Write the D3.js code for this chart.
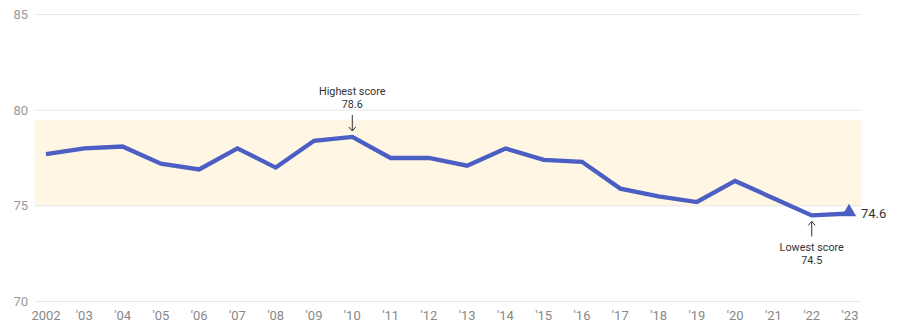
<!DOCTYPE html>
<html><head><meta charset="utf-8">
<script src="https://cdn.jsdelivr.net/npm/d3@7"></script>
<style>
html,body{margin:0;padding:0;background:#fff;}
svg{display:block;font-family:Roboto,"Noto Sans",sans-serif;}
</style></head>
<body>
<svg id="chart" width="904" height="325"></svg>
<script>
const years = [2002,2003,2004,2005,2006,2007,2008,2009,2010,2011,2012,2013,2014,2015,2016,2017,2018,2019,2020,2021,2022,2023];
const yearLabels = ["2002","'03","'04","'05","'06","'07","'08","'09","'10","'11","'12","'13","'14","'15","'16","'17","'18","'19","'20","'21","'22","'23"];
const scores = [77.7,78.0,78.1,77.2,76.9,78.0,77.0,78.4,78.6,77.5,77.5,77.1,78.0,77.4,77.3,75.9,75.5,75.2,76.3,75.4,74.5,74.6];
const yTicks = [70,75,80,85];
const band = [75,79.5];
const annotations = [
  {year:2010, lines:["Highest score","78.6"], pos:"above"},
  {year:2022, lines:["Lowest score","74.5"], pos:"below"}
];

const svg = d3.select("#chart");
const x = d3.scaleLinear().domain([2002,2023]).range([46,850]);
const y = d3.scaleLinear().domain([70,85]).range([301.5,14.5]);
const gridX0 = 35, gridX1 = 861;

// band
svg.append("rect").attr("x",gridX0).attr("width",gridX1-gridX0)
  .attr("y",y(band[1])).attr("height",y(band[0])-y(band[1]))
  .attr("fill","#fff6e3");

// gridlines
svg.selectAll("line.grid").data(yTicks).join("line")
  .attr("x1",gridX0).attr("x2",gridX1)
  .attr("y1",d=>y(d)).attr("y2",d=>y(d))
  .attr("stroke","#e6e6e6").attr("stroke-width",1);

svg.selectAll("text.ytick").data(yTicks).join("text")
  .attr("x",28).attr("y",d=>y(d)).attr("dy","0.35em")
  .attr("text-anchor","end").attr("fill","#999").attr("font-size",13)
  .text(d=>d);

svg.selectAll("text.xtick").data(years).join("text")
  .attr("x",d=>x(d)).attr("y",315).attr("dy","0.35em")
  .attr("text-anchor","middle").attr("fill","#888").attr("font-size",13)
  .text((d,i)=>yearLabels[i]);

// line
const line = d3.line().x((d,i)=>x(years[i])).y(d=>y(d));
svg.append("path").datum(scores).attr("d",line)
  .attr("fill","none").attr("stroke","#4a5ec4").attr("stroke-width",4.3)
  .attr("stroke-linejoin","miter");

// end triangle
const lastX = x(years[years.length-1]), lastY = y(scores[scores.length-1]);
svg.append("path")
  .attr("d",d3.symbol().type(d3.symbolTriangle).size(90)())
  .attr("transform",`translate(${lastX-1},${lastY-1.5})`)
  .attr("fill","#4a5ec4");
svg.append("text").attr("x",lastX+11).attr("y",lastY).attr("dy","0.35em")
  .attr("fill","#333").attr("font-size",13).text(scores[scores.length-1].toFixed(1));

// annotations
annotations.forEach(a=>{
  const i = years.indexOf(a.year);
  const ax = x(a.year), ay = y(scores[i]);
  const g = svg.append("g").attr("fill","#333").attr("font-size",10.8).attr("text-anchor","middle");
  if(a.pos==="above"){
    g.append("text").attr("x",ax).attr("y",ay-42).text(a.lines[0]);
    g.append("text").attr("x",ax).attr("y",ay-29).text(a.lines[1]);
    g.append("line").attr("x1",ax).attr("x2",ax).attr("y1",ay-22).attr("y2",ay-6).attr("stroke","#333").attr("stroke-width",1);
    g.append("path").attr("d",`M${ax-3.5},${ay-10}L${ax},${ay-6}L${ax+3.5},${ay-10}`).attr("fill","none").attr("stroke","#333");
  } else {
    g.append("line").attr("x1",ax).attr("x2",ax).attr("y1",ay+6).attr("y2",ay+21).attr("stroke","#333").attr("stroke-width",1);
    g.append("path").attr("d",`M${ax-3.5},${ay+10}L${ax},${ay+6}L${ax+3.5},${ay+10}`).attr("fill","none").attr("stroke","#333");
    g.append("text").attr("x",ax).attr("y",ay+36).text(a.lines[0]);
    g.append("text").attr("x",ax).attr("y",ay+49).text(a.lines[1]);
  }
});
</script>
</body></html>
